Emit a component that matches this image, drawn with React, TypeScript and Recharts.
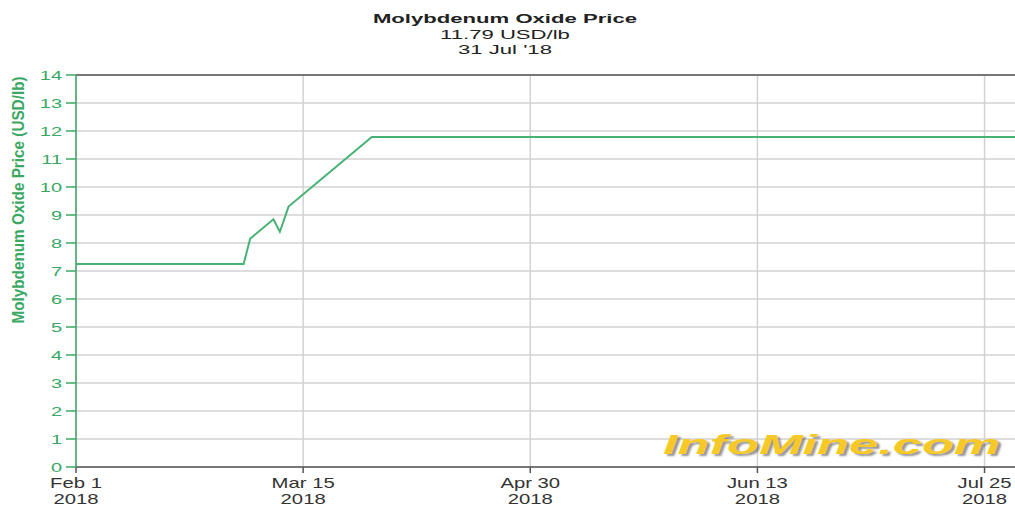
import React from 'react';
import { LineChart, Line, XAxis, YAxis, CartesianGrid, ReferenceLine } from 'recharts';

// x is in chart units (42 units between labelled ticks)
const xValues = [0, 31, 32.2, 36.5, 37.7, 39.3, 54.7, 174];
const prices = [7.25, 7.25, 8.15, 8.85, 8.4, 9.3, 11.79, 11.79];
const xTicks = [0, 42, 84, 126, 168];
const xTickLabels = ['Feb 1', 'Mar 15', 'Apr 30', 'Jun 13', 'Jul 25'];
const xTickYears = ['2018', '2018', '2018', '2018', '2018'];
const yTicks = [0, 1, 2, 3, 4, 5, 6, 7, 8, 9, 10, 11, 12, 13, 14];

const data = xValues.map((x, i) => ({ x, price: prices[i] }));

const GREEN = '#3aa862';
const LINE_GREEN = '#48b274';
const FONT = "'Liberation Sans', Arial, sans-serif";

const XTick = (props: any) => {
  const { x, y, payload } = props;
  const idx = xTicks.indexOf(payload.value);
  return (
    <g>
      <text transform={`translate(${x},${y + 13}) scale(1.45,1)`} textAnchor="middle" fill="#333" fontSize={14} fontFamily={FONT}>
        {xTickLabels[idx]}
      </text>
      <text transform={`translate(${x},${y + 29}) scale(1.45,1)`} textAnchor="middle" fill="#333" fontSize={14} fontFamily={FONT}>
        {xTickYears[idx]}
      </text>
    </g>
  );
};

const YTick = (props: any) => {
  const { x, y, payload } = props;
  return (
    <text transform={`translate(${x},${y + 4.5}) scale(1.6,1)`} textAnchor="end" fill={GREEN} fontSize={12.5} fontFamily={FONT}>
      {payload.value}
    </text>
  );
};

const YLabel = () => (
  <text
    x={0}
    y={0}
    transform="translate(24,200) rotate(-90) scale(0.9,1)"
    textAnchor="middle"
    fill={GREEN}
    fontSize={17}
    fontWeight="bold"
    fontFamily={FONT}
  >
    Molybdenum Oxide Price (USD/lb)
  </text>
);

export default function App() {
  return (
    <div style={{ position: 'absolute', left: 0, top: 0, width: 1015, height: 506, overflow: 'hidden', background: '#fff' }}>
      <div
        style={{
          position: 'absolute',
          left: 0,
          top: 11,
          width: 1010,
          textAlign: 'center',
          fontFamily: FONT,
          color: '#222',
          lineHeight: '15.5px',
          transform: 'scaleX(1.7)',
          transformOrigin: '505px 0',
        }}
      >
        <div style={{ fontWeight: 'bold', fontSize: 13 }}>Molybdenum Oxide Price</div>
        <div style={{ fontSize: 13 }}>11.79 USD/lb</div>
        <div style={{ fontSize: 13 }}>31 Jul '18</div>
      </div>
      <div style={{ position: 'absolute', left: 0, top: 0 }}>
        <LineChart width={1025} height={506} data={data} margin={{ top: 75, right: 8, bottom: 0, left: 0 }}>
          <CartesianGrid stroke="#d2d2d2" strokeWidth={1.5} />
          <XAxis
            dataKey="x"
            type="number"
            domain={[0, 174]}
            ticks={xTicks}
            tick={<XTick />}
            interval={0}
            height={39}
            stroke="#555"
            strokeWidth={1.5}
            tickSize={6}
            allowDataOverflow
          />
          <YAxis
            type="number"
            domain={[0, 14]}
            ticks={yTicks}
            interval={0}
            width={76}
            stroke={GREEN}
            strokeWidth={1.5}
            tickSize={10}
            tickMargin={4}
            tick={<YTick />}
            label={<YLabel />}
          />
          <ReferenceLine y={14} stroke="#555" strokeWidth={1.5} />
          <Line
            type="linear"
            dataKey="price"
            stroke={LINE_GREEN}
            strokeWidth={2}
            dot={false}
            isAnimationActive={false}
          />
        </LineChart>
      </div>
      <div
        style={{
          position: 'absolute',
          left: 663,
          top: 429,
          fontFamily: FONT,
          fontWeight: 'bold',
          fontStyle: 'italic',
          fontSize: 28,
          color: '#f7c928',
          textShadow: '1.5px 1.5px 1.5px rgba(80,80,80,0.6)',
          whiteSpace: 'nowrap',
          transform: 'scaleX(1.87)',
          transformOrigin: '0 0',
        }}
      >
        InfoMine.com
      </div>
    </div>
  );
}
